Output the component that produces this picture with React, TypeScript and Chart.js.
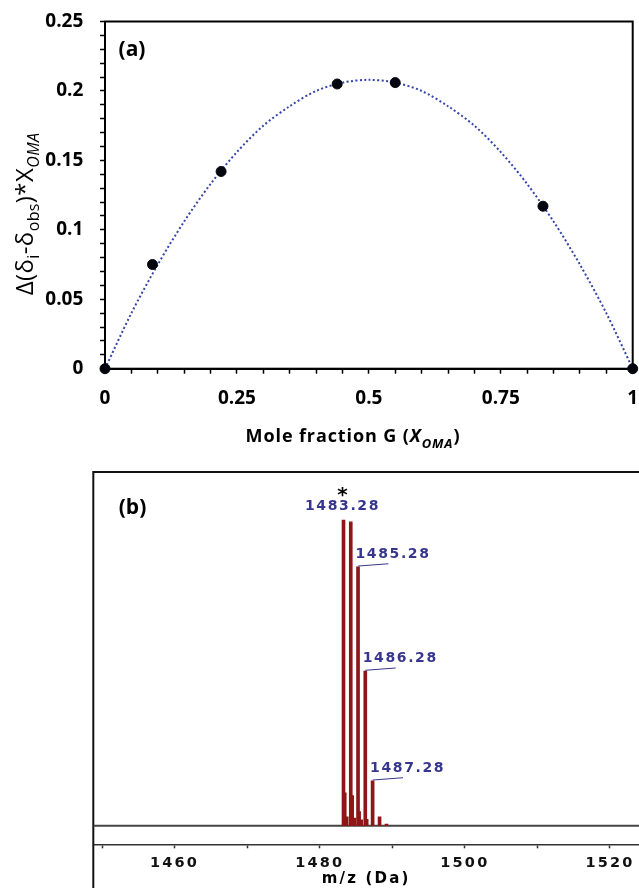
import React, { useEffect, useRef } from 'react';
import { Chart, registerables } from 'chart.js';

Chart.register(...registerables);

// ---------------- Panel (a): Job plot ----------------
const moleFraction = [0, 0.09, 0.22, 0.44, 0.55, 0.83, 1];
const jobValues = [0, 0.075, 0.142, 0.205, 0.206, 0.117, 0];
const fitMoleFraction = [0, 0.05, 0.1, 0.15, 0.2, 0.25, 0.3, 0.35, 0.4, 0.45, 0.5, 0.55, 0.6, 0.65, 0.7, 0.75, 0.8, 0.85, 0.9, 0.95, 1];
const fitValues = [0, 0.04, 0.075, 0.106, 0.133, 0.156, 0.175, 0.189, 0.2, 0.206, 0.208, 0.206, 0.2, 0.189, 0.175, 0.156, 0.133, 0.106, 0.075, 0.04, 0];
const yLabelValuesA = [0, 0.05, 0.1, 0.15, 0.2, 0.25];
const xLabelValuesA = [0, 0.25, 0.5, 0.75, 1];

// ---------------- Panel (b): mass spectrum ----------------
const mainPeakMz = [1483.28, 1484.28, 1485.28, 1486.28, 1487.29, 1488.25, 1489.2];
const mainPeakIntensity = [100, 99.4, 84.7, 50.6, 14.7, 2.9, 0.5];
const satellitePeakMz = [1483.52, 1483.79, 1484.54, 1484.82, 1485.5, 1485.78, 1486.54];
const satellitePeakIntensity = [10.7, 2.9, 9.8, 2.5, 4.6, 1.9, 2.1];
const annotatedPeakIndex = [0, 2, 3, 4];
const annotationText = ['1483.28', '1485.28', '1486.28', '1487.28'];
const xLabelValuesB = [1460, 1480, 1500, 1520];
const mzMin = 1448.8;
const mzMax = 1524;

// ---------------- helpers ----------------
type Seg = { t: string; sub?: boolean; italic?: boolean };

function drawRich(
  ctx: CanvasRenderingContext2D,
  segs: Seg[],
  cx: number,
  cy: number,
  size: number,
  subSize: number,
  weight: string,
  family: string,
  rotate: boolean,
  spacing: number
) {
  ctx.save();
  ctx.translate(cx, cy);
  if (rotate) ctx.rotate(-Math.PI / 2);
  (ctx as any).letterSpacing = spacing + 'px';
  const fontFor = (s: Seg) => `${s.italic ? 'italic ' : ''}${weight} ${s.sub ? subSize : size}px ${family}`;
  let total = 0;
  for (const s of segs) {
    ctx.font = fontFor(s);
    total += ctx.measureText(s.t).width;
  }
  let x = -total / 2;
  ctx.textBaseline = 'alphabetic';
  ctx.textAlign = 'left';
  ctx.fillStyle = '#000';
  const base = size * 0.36;
  for (const s of segs) {
    ctx.font = fontFor(s);
    ctx.fillText(s.t, x, s.sub ? base + size * 0.28 : base);
    x += ctx.measureText(s.t).width;
  }
  ctx.restore();
}

const matchLabel = (list: number[], v: number) => {
  const f = list.find((l) => Math.abs(l - v) < 1e-7);
  return f === undefined ? '' : String(f);
};

const zeroPadding = (s: any) => {
  s.paddingLeft = 0;
  s.paddingRight = 0;
  s.paddingTop = 0;
  s.paddingBottom = 0;
};

// ---------------- Panel A ----------------
const A_W = 639;
const A_H = 455;

function PanelA() {
  const ref = useRef<HTMLCanvasElement>(null);
  useEffect(() => {
    const frame = {
      id: 'frameA',
      beforeDatasetsDraw(chart: any) {
        const { ctx, chartArea } = chart;
        ctx.save();
        ctx.strokeStyle = '#000';
        ctx.lineWidth = 2;
        ctx.strokeRect(chartArea.left, chartArea.top, chartArea.right - chartArea.left, chartArea.bottom - chartArea.top);
        ctx.restore();
      },
    };
    const texts = {
      id: 'textsA',
      afterDraw(chart: any) {
        const ctx = chart.ctx as CanvasRenderingContext2D;
        ctx.save();
        ctx.font = 'bold 21px "Open Sans"';
        ctx.fillStyle = '#000';
        ctx.textAlign = 'center';
        ctx.textBaseline = 'middle';
        ctx.fillText('(a)', 132, 50);
        ctx.restore();
        drawRich(
          ctx,
          [
            { t: 'Δ(δ' },
            { t: 'i', sub: true },
            { t: '-δ' },
            { t: 'obs', sub: true },
            { t: ')*X' },
            { t: 'OMA', sub: true, italic: true },
          ],
          24,
          214,
          24,
          16,
          'normal',
          '"Open Sans"',
          true,
          0.4
        );
        drawRich(
          ctx,
          [
            { t: 'Mole fraction G (' },
            { t: 'X', italic: true },
            { t: 'OMA', sub: true, italic: true },
            { t: ')' },
          ],
          353,
          436,
          18,
          13,
          'bold',
          '"Open Sans"',
          false,
          0.9
        );
      },
    };
    const chart = new Chart(ref.current as HTMLCanvasElement, {
      type: 'scatter',
      data: {
        datasets: [
          {
            label: 'Job plot',
            data: moleFraction.map((x, i) => ({ x, y: jobValues[i] })),
            pointRadius: 5,
            pointBackgroundColor: '#050510',
            pointBorderColor: '#050510',
            pointBorderWidth: 1,
            showLine: false,
            clip: false,
            order: 0,
          } as any,
          {
            label: 'Fit',
            data: fitMoleFraction.map((x, i) => ({ x, y: fitValues[i] })),
            showLine: true,
            pointRadius: 0,
            borderColor: '#3444a8',
            borderWidth: 2,
            borderDash: [2, 2.4],
            tension: 0.3,
            clip: false,
            order: 1,
          } as any,
        ],
      },
      options: {
        responsive: false,
        animation: false,
        events: [],
        layout: { autoPadding: false, padding: { top: 21.5, right: 6.3, left: 0, bottom: 0 } },
        plugins: { legend: { display: false }, tooltip: { enabled: false } },
        scales: {
          x: {
            type: 'linear',
            min: 0,
            max: 1,
            afterFit(s: any) {
              s.height = A_H - 368.7;
              zeroPadding(s);
            },
            ticks: {
              stepSize: 0.05,
              autoSkip: false,
              maxRotation: 0,
              padding: 13,
              color: '#000',
              font: { family: '"Open Sans"', size: 19, weight: 'bold' },
              callback: (v: any) => matchLabel(xLabelValuesA, Number(v)),
            },
            grid: { drawOnChartArea: false, drawTicks: true, tickLength: 5, tickColor: '#000', tickWidth: 1.5 },
            border: { display: true, color: '#000', width: 2 },
          },
          y: {
            type: 'linear',
            min: 0,
            max: 0.25,
            afterFit(s: any) {
              s.width = 105;
              zeroPadding(s);
            },
            ticks: {
              stepSize: 0.01,
              autoSkip: false,
              padding: 16.7,
              color: '#000',
              font: { family: '"Open Sans"', size: 19, weight: 'bold' },
              callback: (v: any) => matchLabel(yLabelValuesA, Number(v)),
            },
            grid: { drawOnChartArea: false, drawTicks: true, tickLength: 5, tickColor: '#000', tickWidth: 1.5 },
            border: { display: true, color: '#000', width: 2 },
          },
        },
      } as any,
      plugins: [frame, texts],
    });
    return () => chart.destroy();
  }, []);
  return (
    <canvas
      ref={ref}
      width={A_W}
      height={A_H}
      style={{ position: 'absolute', left: 0, top: 0, width: A_W, height: A_H, display: 'block' }}
    />
  );
}

// ---------------- Panel B ----------------
const B_TOP = 455;
const B_W = 639;
const B_H = 445;

function PanelB() {
  const ref = useRef<HTMLCanvasElement>(null);
  useEffect(() => {
    const spacing = {
      id: 'spacingB',
      beforeDraw(chart: any) {
        chart.ctx.letterSpacing = '2.2px';
      },
      afterDraw(chart: any) {
        chart.ctx.letterSpacing = '0px';
      },
    };
    const frame = {
      id: 'frameB',
      beforeDatasetsDraw(chart: any) {
        const { ctx, chartArea } = chart;
        ctx.save();
        ctx.strokeStyle = '#111';
        ctx.lineWidth = 2;
        ctx.beginPath();
        ctx.moveTo(chartArea.left, chart.height);
        ctx.lineTo(chartArea.left, chartArea.top);
        ctx.lineTo(chart.width, chartArea.top);
        ctx.stroke();
        ctx.restore();
      },
    };
    const notes = {
      id: 'notesB',
      afterDatasetsDraw(chart: any) {
        const ctx = chart.ctx as CanvasRenderingContext2D;
        const { x, y } = chart.scales;
        ctx.save();
        (ctx as any).letterSpacing = '0px';
        ctx.font = 'bold 21px "Open Sans"';
        ctx.fillStyle = '#000';
        ctx.textAlign = 'center';
        ctx.textBaseline = 'middle';
        ctx.fillText('(b)', 132.5, 53);
        ctx.restore();

        annotatedPeakIndex.forEach((idx, k) => {
          const px = x.getPixelForValue(mainPeakMz[idx]);
          const py = y.getPixelForValue(mainPeakIntensity[idx]);
          ctx.save();
          (ctx as any).letterSpacing = '1.6px';
          ctx.font = 'bold 14px "DejaVu Sans"';
          ctx.fillStyle = '#36368e';
          ctx.strokeStyle = '#36368e';
          ctx.textBaseline = 'middle';
          if (k === 0) {
            ctx.textAlign = 'center';
            ctx.fillText(annotationText[k], px - 1, py - 13.3);
            (ctx as any).letterSpacing = '0px';
            ctx.fillStyle = '#000';
            ctx.font = 'bold 20px "DejaVu Sans"';
            ctx.textBaseline = 'alphabetic';
            ctx.fillText('*', px - 1, py - 19);
          } else {
            ctx.textAlign = 'left';
            ctx.fillText(annotationText[k], px - 2.5, py - 12.3);
            ctx.lineWidth = 1;
            ctx.beginPath();
            ctx.moveTo(px, py - 0.7);
            ctx.lineTo(px + 30.4, py - 3);
            ctx.stroke();
          }
          ctx.restore();
        });
      },
    };
    const chart = new Chart(ref.current as HTMLCanvasElement, {
      type: 'bar',
      data: {
        datasets: [
          {
            type: 'line',
            label: 'baseline',
            data: [
              { x: mzMin, y: 0 },
              { x: mzMax, y: 0 },
            ],
            borderColor: '#454545',
            borderWidth: 2,
            pointRadius: 0,
            order: 10,
          } as any,
          {
            label: 'main peaks',
            data: mainPeakMz.map((m, i) => ({ x: m, y: mainPeakIntensity[i] })),
            backgroundColor: '#8e1616',
            barThickness: 3,
            grouped: false,
            order: 1,
          } as any,
          {
            label: 'satellite peaks',
            data: satellitePeakMz.map((m, i) => ({ x: m, y: satellitePeakIntensity[i] })),
            backgroundColor: '#8e1616',
            barThickness: 2,
            grouped: false,
            order: 2,
          } as any,
        ],
      },
      options: {
        responsive: false,
        animation: false,
        events: [],
        layout: { autoPadding: false, padding: { top: 17, right: 0, left: 93.3, bottom: 0 } },
        plugins: { legend: { display: false }, tooltip: { enabled: false } },
        scales: {
          x: {
            type: 'linear',
            min: mzMin,
            max: mzMax,
            offset: false,
            afterFit(s: any) {
              s.height = B_H - 389.3;
              zeroPadding(s);
            },
            ticks: {
              stepSize: 10,
              includeBounds: false,
              autoSkip: false,
              maxRotation: 0,
              padding: 6.3,
              color: '#111',
              font: { family: '"DejaVu Sans"', size: 14.5, weight: 'bold' },
              callback: (v: any) => matchLabel(xLabelValuesB, Number(v)),
            },
            grid: { offset: false, drawOnChartArea: false, drawTicks: true, tickLength: 4, tickColor: '#333', tickWidth: 1.5 },
            border: { display: true, color: '#333', width: 1.5 },
            title: {
              display: true,
              text: 'm/z (Da)',
              color: '#000',
              font: { family: '"DejaVu Sans"', size: 15, weight: 'bold', lineHeight: 1.2 },
              padding: { top: 0, bottom: 11.5 },
            },
          },
          y: {
            type: 'linear',
            display: false,
            min: -6.1,
            max: 115.7,
          },
        },
      } as any,
      plugins: [spacing, frame, notes],
    });
    return () => chart.destroy();
  }, []);
  return (
    <canvas
      ref={ref}
      width={B_W}
      height={B_H}
      style={{ position: 'absolute', left: 0, top: B_TOP, width: B_W, height: B_H, display: 'block' }}
    />
  );
}

export default function App() {
  return (
    <div
      style={{
        position: 'fixed',
        left: 0,
        top: 0,
        width: 639,
        height: 888,
        overflow: 'hidden',
        background: '#fff',
      }}
    >
      <PanelA />
      <PanelB />
    </div>
  );
}
